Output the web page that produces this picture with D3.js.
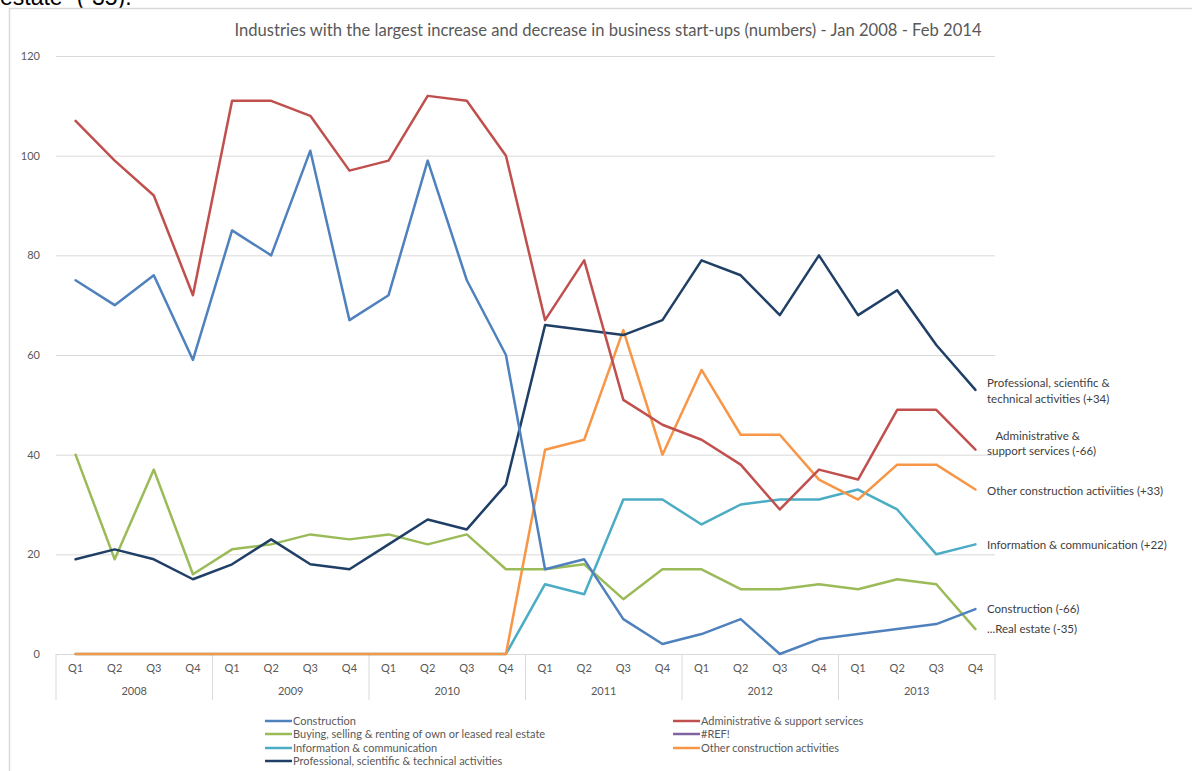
<!DOCTYPE html>
<html>
<head>
<meta charset="utf-8">
<script src="https://cdn.jsdelivr.net/npm/d3@7"></script>
<style>
  html, body { margin: 0; padding: 0; background: #fff; }
  svg { display: block; }
</style>
</head>
<body>
<svg id="chart" width="1192" height="771"></svg>
<script>
// ---- data ----
const years = ["2008", "2009", "2010", "2011", "2012", "2013"];
const quarters = ["Q1", "Q2", "Q3", "Q4"];
const yTicks = [0, 20, 40, 60, 80, 100, 120];

const construction   = [75, 70, 76, 59, 85, 80, 101, 67, 72, 99, 75, 60, 17, 19, 7, 2, 4, 7, 0, 3, 4, 5, 6, 9];
const administrative = [107, 99, 92, 72, 111, 111, 108, 97, 99, 112, 111, 100, 67, 79, 51, 46, 43, 38, 29, 37, 35, 49, 49, 41];
const realEstate     = [40, 19, 37, 16, 21, 22, 24, 23, 24, 22, 24, 17, 17, 18, 11, 17, 17, 13, 13, 14, 13, 15, 14, 5];
const refError       = [];
const infoComm       = [0, 0, 0, 0, 0, 0, 0, 0, 0, 0, 0, 0, 14, 12, 31, 31, 26, 30, 31, 31, 33, 29, 20, 22];
const otherConstr    = [0, 0, 0, 0, 0, 0, 0, 0, 0, 0, 0, 0, 41, 43, 65, 40, 57, 44, 44, 35, 31, 38, 38, 33];
const professional   = [19, 21, 19, 15, 18, 23, 18, 17, 22, 27, 25, 34, 66, 65, 64, 67, 79, 76, 68, 80, 68, 73, 62, 53];

const seriesNames = [
  "Construction",
  "Administrative & support services",
  "Buying, selling & renting of own or leased real estate",
  "#REF!",
  "Information & communication",
  "Other construction activities",
  "Professional, scientific & technical activities"
];
const endLabels = [
  ["Construction (-66)"],
  ["   Administrative &", "support services (-66)"],
  ["...Real estate (-35)"],
  [],
  ["Information & communication (+22)"],
  ["Other construction activiities (+33)"],
  ["Professional, scientific &", "technical activities (+34)"]
];
const title = "Industries with the largest increase and decrease in business start-ups (numbers) - Jan 2008 - Feb 2014";
const topText = "estate\u201D (-35).";

// ---- styles ----
const colors = ["#4F81BD", "#C0504D", "#9BBB59", "#8064A2", "#4BACC6", "#F79646", "#1F3F66"];
const font = "Lato, 'Open Sans', sans-serif";
const textCol = "#595959";

const seriesValues = [construction, administrative, realEstate, refError, infoComm, otherConstr, professional];
const categories = [];
years.forEach(yr => quarters.forEach(q => categories.push(yr + " " + q)));

const svg = d3.select("#chart");

// partial document text above the chart (cut off by the page top, as in the source)
svg.append("text").attr("x", 0).attr("y", 5)
  .attr("font-family", "'Liberation Sans', Arial, sans-serif")
  .attr("font-size", 23).attr("fill", "#000").text(topText);

// chart frame
svg.append("rect").attr("x", 9.5).attr("y", 8.5).attr("width", 1200).attr("height", 800)
  .attr("fill", "#fff").attr("stroke", "#d9d9d9").attr("stroke-width", 1.5);

const pLeft = 56, pRight = 995, pTop = 56, pBottom = 654;
const x = d3.scaleBand().domain(categories).range([pLeft, pRight]).padding(0);
const y = d3.scaleLinear().domain([0, 120]).range([pBottom, pTop]);
const cx = c => x(c) + x.bandwidth() / 2;

// title
svg.append("text").attr("x", 608).attr("y", 36).attr("text-anchor", "middle")
  .attr("font-family", font).attr("font-size", 16.6).attr("fill", textCol).text(title);

// gridlines + y axis labels
const yAxis = d3.axisLeft(y).tickValues(yTicks).tickSize(-(pRight - pLeft)).tickPadding(16);
const gy = svg.append("g").attr("transform", `translate(${pLeft},0)`).call(yAxis);
gy.select(".domain").remove();
gy.selectAll(".tick line").attr("stroke", "#d9d9d9").attr("stroke-width", 1);
gy.selectAll(".tick text").attr("font-family", font).attr("font-size", 11).attr("fill", textCol);

// x axis: quarter labels
const xAxis = d3.axisBottom(x).tickSize(0).tickPadding(10).tickFormat(d => d.split(" ")[1]);
const gx = svg.append("g").attr("transform", `translate(0,${pBottom})`).call(xAxis);
gx.select(".domain").attr("stroke", "#d9d9d9");
gx.selectAll(".tick text").attr("font-family", font).attr("font-size", 11).attr("fill", textCol);

// year group separators and labels
const yearStarts = years.map(yr => x(yr + " Q1"));
yearStarts.concat([pRight]).forEach(px => {
  svg.append("line").attr("x1", px).attr("x2", px).attr("y1", pBottom).attr("y2", 700)
    .attr("stroke", "#d9d9d9").attr("stroke-width", 1);
});
years.forEach(yr => {
  const mid = (x(yr + " Q1") + x(yr + " Q4") + x.bandwidth()) / 2;
  svg.append("text").attr("x", mid).attr("y", 695).attr("text-anchor", "middle")
    .attr("font-family", font).attr("font-size", 11).attr("fill", textCol).text(yr);
});

// lines
const line = d3.line().x((d, i) => cx(categories[i])).y(d => y(d));
const drawOrder = [4, 5, 2, 6, 0, 1];
drawOrder.forEach(si => {
  const vals = seriesValues[si];
  if (!vals.length) return;
  svg.append("path").datum(vals).attr("d", line)
    .attr("fill", "none").attr("stroke", colors[si]).attr("stroke-width", 2.5)
    .attr("stroke-linejoin", "round").attr("stroke-linecap", "round");
});

// end labels
const labelPos = [
  [609], [436, 451], [629], [], [545], [491], [383, 399]
];
endLabels.forEach((lines, si) => {
  lines.forEach((t, k) => {
    svg.append("text").attr("x", 987).attr("y", labelPos[si][k] + 4)
      .attr("font-family", font).attr("font-size", 11.5).attr("fill", "#404040")
      .style("white-space", "pre").text(t);
  });
});

// legend
const legendItems = [
  [0, 265, 721], [2, 265, 734], [4, 265, 748], [6, 265, 761],
  [1, 673, 721], [3, 673, 734], [5, 673, 748]
];
legendItems.forEach(([si, lx, ly]) => {
  svg.append("line").attr("x1", lx).attr("x2", lx + 27).attr("y1", ly).attr("y2", ly)
    .attr("stroke", colors[si]).attr("stroke-width", 2.5);
  svg.append("text").attr("x", lx + 28).attr("y", ly + 4)
    .attr("font-family", font).attr("font-size", 11).attr("fill", textCol).text(seriesNames[si]);
});
</script>
</body>
</html>
